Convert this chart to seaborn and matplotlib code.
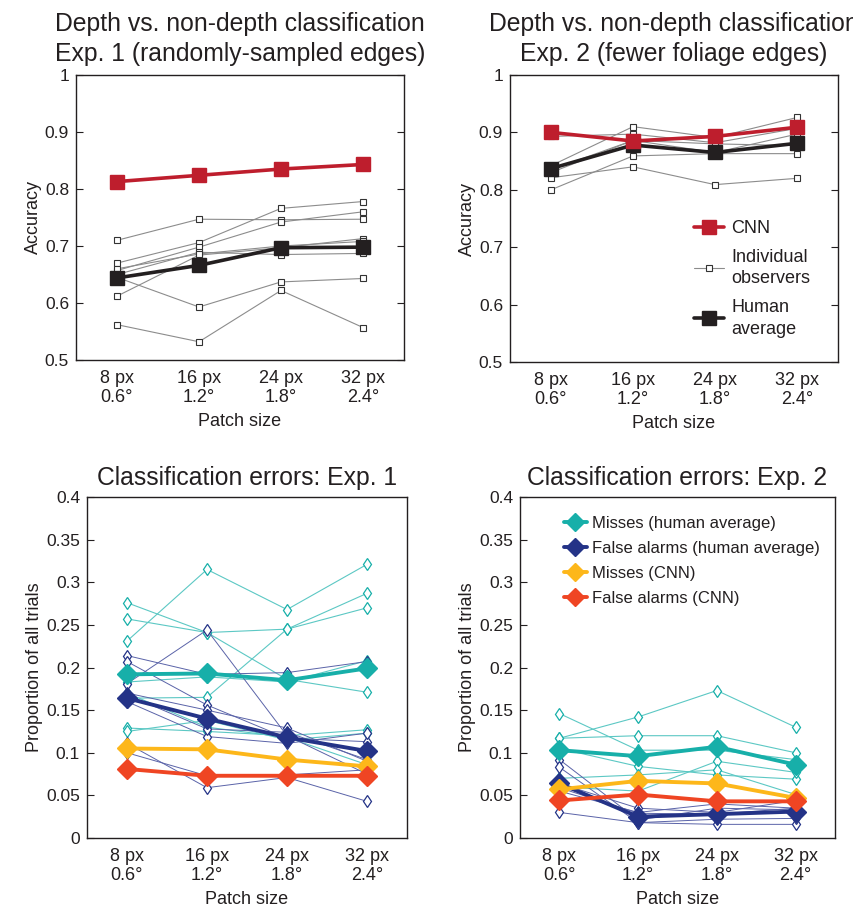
import numpy as np
import pandas as pd
import matplotlib
matplotlib.use("Agg")
import matplotlib.pyplot as plt
from matplotlib.lines import Line2D
import seaborn as sns

# ---- data ----
patch_px = [8, 16, 24, 32]
patch_deg = ["0.6°", "1.2°", "1.8°", "2.4°"]
tick_labels = [f"{p} px\n{d}" for p, d in zip(patch_px, patch_deg)]

# Exp. 1 accuracy
cnn_acc_e1 = [0.813, 0.824, 0.835, 0.843]
human_acc_e1 = [0.644, 0.666, 0.697, 0.698]
obs_acc_e1 = [
    [0.710, 0.747, 0.746, 0.747],
    [0.670, 0.706, 0.766, 0.778],
    [0.657, 0.698, 0.742, 0.760],
    [0.650, 0.689, 0.685, 0.687],
    [0.645, 0.593, 0.637, 0.643],
    [0.612, 0.684, 0.697, 0.713],
    [0.562, 0.532, 0.622, 0.557],
    [0.660, 0.686, 0.700, 0.708],
]

# Exp. 2 accuracy
cnn_acc_e2 = [0.900, 0.885, 0.893, 0.909]
human_acc_e2 = [0.837, 0.878, 0.865, 0.881]
obs_acc_e2 = [
    [0.893, 0.897, 0.882, 0.907],
    [0.842, 0.910, 0.891, 0.926],
    [0.830, 0.886, 0.865, 0.897],
    [0.821, 0.840, 0.809, 0.820],
    [0.800, 0.859, 0.863, 0.863],
    [0.835, 0.886, 0.880, 0.877],
]

# Exp. 1 errors
miss_human_e1 = [0.192, 0.193, 0.185, 0.199]
fa_human_e1 = [0.164, 0.140, 0.118, 0.102]
miss_cnn_e1 = [0.105, 0.104, 0.092, 0.084]
fa_cnn_e1 = [0.081, 0.073, 0.073, 0.073]
obs_miss_e1 = [
    [0.276, 0.241, 0.245, 0.270],
    [0.257, 0.241, 0.186, 0.171],
    [0.231, 0.315, 0.268, 0.321],
    [0.164, 0.165, 0.245, 0.287],
    [0.129, 0.125, 0.120, 0.127],
    [0.183, 0.189, 0.183, 0.208],
    [0.170, 0.130, 0.118, 0.086],
    [0.125, 0.138, 0.115, 0.123],
]
obs_fa_e1 = [
    [0.214, 0.192, 0.194, 0.207],
    [0.181, 0.244, 0.120, 0.075],
    [0.207, 0.156, 0.117, 0.113],
    [0.160, 0.119, 0.111, 0.123],
    [0.111, 0.059, 0.071, 0.043],
    [0.100, 0.073, 0.074, 0.080],
    [0.170, 0.150, 0.129, 0.090],
    [0.168, 0.128, 0.124, 0.092],
]

# Exp. 2 errors
miss_human_e2 = [0.103, 0.096, 0.107, 0.086]
fa_human_e2 = [0.064, 0.025, 0.028, 0.031]
miss_cnn_e2 = [0.057, 0.067, 0.064, 0.047]
fa_cnn_e2 = [0.044, 0.051, 0.043, 0.043]
obs_miss_e2 = [
    [0.117, 0.142, 0.173, 0.130],
    [0.146, 0.103, 0.103, 0.092],
    [0.117, 0.120, 0.120, 0.100],
    [0.105, 0.084, 0.074, 0.069],
    [0.060, 0.055, 0.090, 0.077],
    [0.070, 0.074, 0.080, 0.051],
]
obs_fa_e2 = [
    [0.092, 0.021, 0.035, 0.033],
    [0.083, 0.018, 0.016, 0.016],
    [0.064, 0.035, 0.030, 0.044],
    [0.059, 0.029, 0.028, 0.035],
    [0.030, 0.018, 0.022, 0.023],
    [0.055, 0.030, 0.040, 0.035],
]

# colours
C_CNN = "#BE1E2D"
C_HUMAN = "#231F20"
C_OBS = "#8C8C8C"
C_MISS = "#17AFA9"
C_MISS_LT = "#5CC8C4"
C_FA = "#243387"
C_FA_LT = "#5A63A8"
C_MISS_CNN = "#FDB71A"
C_FA_CNN = "#EF4523"
TXT = "#231F20"

sns.set_theme(style="white")
plt.rcParams["font.family"] = ["Liberation Sans", "DejaVu Sans"]
plt.rcParams["text.color"] = TXT
plt.rcParams["axes.labelcolor"] = TXT
plt.rcParams["xtick.color"] = TXT
plt.rcParams["ytick.color"] = TXT

W, H = 854, 911
fig = plt.figure(figsize=(W / 100, H / 100), dpi=100)


def add_ax(x0, y0, x1, y1):
    return fig.add_axes([x0 / W, 1 - y1 / H, (x1 - x0) / W, (y1 - y0) / H])


xpos = np.arange(1, 5)


def line(ax, y, color, lw, marker, ms, mfc=None, mec=None, mew=1.0, z=2):
    df = pd.DataFrame({"x": xpos, "y": y})
    sns.lineplot(data=df, x="x", y="y", ax=ax, color=color, lw=lw, marker=marker,
                 markersize=ms, markerfacecolor=mfc or color, markeredgecolor=mec or color,
                 markeredgewidth=mew, zorder=z, legend=False)


def style(ax, ylim, yticks, right_ticks, title):
    ax.set_xlim(0.5, 4.5)
    ax.set_ylim(*ylim)
    ax.set_yticks(yticks)
    ax.set_yticklabels([f"{v:g}" for v in yticks], fontsize=12.5)
    ax.set_xticks(xpos)
    ax.set_xticklabels(tick_labels, fontsize=13, linespacing=1.15)
    ax.tick_params(axis="x", length=0, pad=7)
    ax.tick_params(axis="y", direction="in", length=5, width=0.8, left=True,
                   right=right_ticks, pad=5)
    for s in ax.spines.values():
        s.set_color("#231F20")
        s.set_linewidth(1.0)
    ax.set_xlabel("Patch size", fontsize=13, labelpad=5)
    ax.set_title(title, fontsize=17.8, pad=10, linespacing=1.3)


# ---- top row: accuracy ----
acc_ticks = [0.5, 0.6, 0.7, 0.8, 0.9, 1.0]
for ax_box, obs, human, cnn, title in [
    ((76, 75, 404, 360), obs_acc_e1, human_acc_e1, cnn_acc_e1,
     "Depth vs. non-depth classification\nExp. 1 (randomly-sampled edges)"),
    ((510, 75, 838, 362), obs_acc_e2, human_acc_e2, cnn_acc_e2,
     "Depth vs. non-depth classification\nExp. 2 (fewer foliage edges)"),
]:
    ax = add_ax(*ax_box)
    for o in obs:
        line(ax, o, C_OBS, 0.8, "s", 4.5, mfc="white", mec="#333333", mew=0.8, z=2)
    line(ax, human, C_HUMAN, 2.6, "s", 10, z=3)
    line(ax, cnn, C_CNN, 2.6, "s", 10, z=4)
    style(ax, (0.5, 1.0), acc_ticks, True, title)
    ax.set_ylabel("Accuracy", fontsize=13, labelpad=2)
    if obs is obs_acc_e2:
        handles = [
            Line2D([], [], color=C_CNN, lw=2.6, marker="s", ms=10),
            Line2D([], [], color=C_OBS, lw=0.8, marker="s", ms=4.5, mfc="white",
                   mec="#333333", mew=0.8),
            Line2D([], [], color=C_HUMAN, lw=2.6, marker="s", ms=10),
        ]
        leg = ax.legend(handles, ["CNN", "Individual\nobservers", "Human\naverage"],
                        loc="upper left", bbox_to_anchor=(0.56, 0.495), frameon=False,
                        fontsize=13, handlelength=1.7, handletextpad=0.4,
                        labelspacing=0.65, borderpad=0, borderaxespad=0)
        for t in leg.get_texts():
            t.set_linespacing(1.35)

# ---- bottom row: errors ----
err_ticks = [0, 0.05, 0.1, 0.15, 0.2, 0.25, 0.3, 0.35, 0.4]
for ax_box, om, ofa, mh, fh, mc, fc, title in [
    ((87, 497, 407, 838), obs_miss_e1, obs_fa_e1, miss_human_e1, fa_human_e1,
     miss_cnn_e1, fa_cnn_e1, "Classification errors: Exp. 1"),
    ((520, 497, 835, 838), obs_miss_e2, obs_fa_e2, miss_human_e2, fa_human_e2,
     miss_cnn_e2, fa_cnn_e2, "Classification errors: Exp. 2"),
]:
    ax = add_ax(*ax_box)
    for o in om:
        line(ax, o, C_MISS_LT, 0.8, "d", 6, mfc="white", mec=C_MISS, mew=0.9, z=2)
    for o in ofa:
        line(ax, o, C_FA_LT, 0.7, "d", 6, mfc="white", mec=C_FA, mew=0.9, z=2)
    line(ax, mh, C_MISS, 2.8, "D", 10, z=3)
    line(ax, fh, C_FA, 2.8, "D", 10, z=3)
    line(ax, mc, C_MISS_CNN, 2.8, "D", 10, z=4)
    line(ax, fc, C_FA_CNN, 2.8, "D", 10, z=5)
    style(ax, (0, 0.4), err_ticks, False, title)
    ax.set_title(title, fontsize=17.8, pad=9)
    ax.set_ylabel("Proportion of all trials", fontsize=13, labelpad=2)
    if om is obs_miss_e2:
        handles = [Line2D([], [], color=c, lw=2.8, marker="D", ms=9)
                   for c in (C_MISS, C_FA, C_MISS_CNN, C_FA_CNN)]
        ax.legend(handles, ["Misses (human average)", "False alarms (human average)",
                            "Misses (CNN)", "False alarms (CNN)"],
                  loc="upper left", bbox_to_anchor=(0.14, 0.945), frameon=False,
                  fontsize=12, handlelength=1.35, handletextpad=0.35,
                  labelspacing=0.6, borderpad=0, borderaxespad=0)

fig.savefig("out.png", dpi=100)
